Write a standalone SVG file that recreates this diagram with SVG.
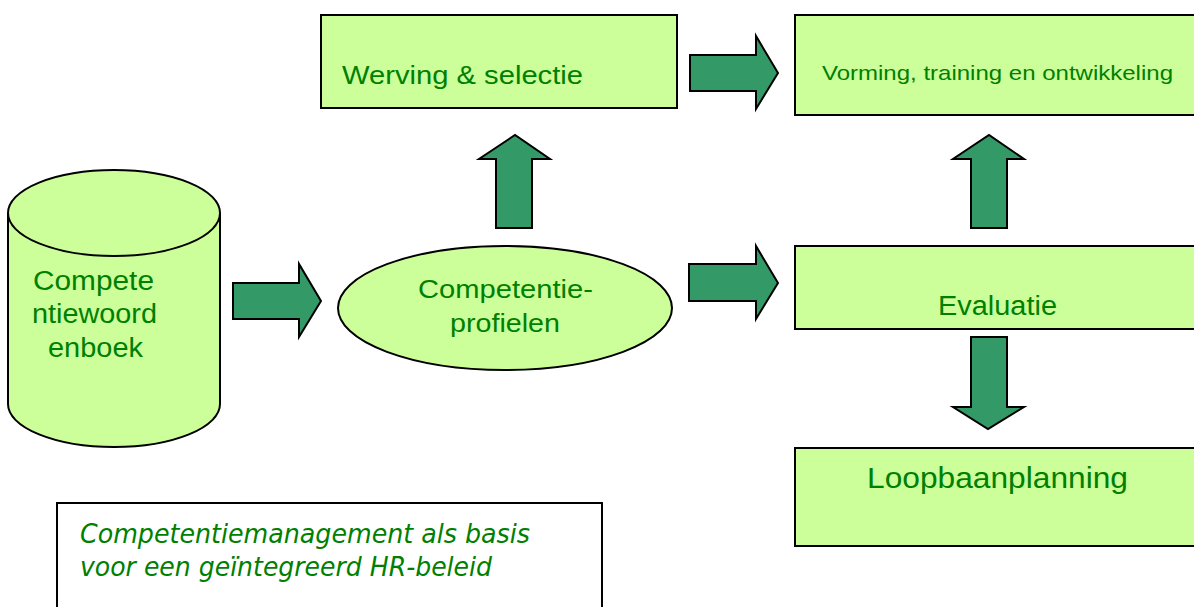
<svg xmlns="http://www.w3.org/2000/svg" width="1194" height="607" viewBox="0 0 1194 607">
<style>
.shape{fill:#CCFF99;stroke:#000;stroke-width:2}
.arr{fill:#339966;stroke:#000;stroke-width:2;stroke-linejoin:miter}
.t{font-family:"Liberation Sans",Arial,sans-serif;fill:#008000}
.it{font-family:"DejaVu Sans Condensed","DejaVu Sans",Verdana,sans-serif;font-style:italic;fill:#008000}
</style>
<rect width="1194" height="607" fill="#fff"/>
<g id="woordenboek">
<path class="shape" d="M8,213 L8,404 A106,43 0 0 0 220,404 L220,213 A106,43 0 0 0 8,213 Z"/>
<path class="shape" d="M8,213 A106,43 0 0 0 220,213"/>
<text class="t" font-size="27" x="33" y="290" textLength="121" lengthAdjust="spacingAndGlyphs">Compete</text>
<text class="t" font-size="27" x="32" y="323" textLength="125" lengthAdjust="spacingAndGlyphs">ntiewoord</text>
<text class="t" font-size="27" x="48" y="357" textLength="95" lengthAdjust="spacingAndGlyphs">enboek</text>
</g>
<g id="profielen">
<ellipse class="shape" cx="505" cy="308" rx="167" ry="62"/>
<text class="t" font-size="26" x="418" y="298" textLength="175" lengthAdjust="spacingAndGlyphs">Competentie-</text>
<text class="t" font-size="26" x="450" y="332" textLength="110" lengthAdjust="spacingAndGlyphs">profielen</text>
</g>
<g id="werving">
<rect class="shape" x="321" y="15" width="356" height="93"/>
<text class="t" font-size="26.5" x="342" y="84" textLength="241" lengthAdjust="spacingAndGlyphs">Werving &amp; selectie</text>
</g>
<g id="vorming">
<rect class="shape" x="795" y="15" width="410" height="100"/>
<text class="t" font-size="21" x="822" y="80" textLength="351" lengthAdjust="spacingAndGlyphs">Vorming, training en ontwikkeling</text>
</g>
<g id="evaluatie">
<rect class="shape" x="795" y="246" width="410" height="83"/>
<text class="t" font-size="27" x="938" y="315" textLength="119" lengthAdjust="spacingAndGlyphs">Evaluatie</text>
</g>
<g id="loopbaan">
<rect class="shape" x="795" y="448" width="410" height="98"/>
<text class="t" font-size="30" x="867" y="488" textLength="261" lengthAdjust="spacingAndGlyphs">Loopbaanplanning</text>
</g>
<g id="caption">
<rect x="57" y="503" width="545" height="120" fill="#fff" stroke="#000" stroke-width="2"/>
<text class="it" font-size="27" x="80" y="543" textLength="450" lengthAdjust="spacingAndGlyphs">Competentiemanagement als basis</text>
<text class="it" font-size="27" x="80" y="576" textLength="412" lengthAdjust="spacingAndGlyphs">voor een geïntegreerd HR-beleid</text>
</g>
<g id="connectors">
<polygon class="arr" points="233,283 299,283 299,264 321,301 299,337 299,319 233,319"/>
<polygon class="arr" points="689,264 756,264 756,246 778,283 756,319 756,301 689,301"/>
<polygon class="arr" points="690,55 756,55 756,36 778,73 756,109 756,91 690,91"/>
<polygon class="arr" points="496,228 496,159 479,159 515,135 550,159 532,159 532,228"/>
<polygon class="arr" points="971,228 971,159 953,159 989,135 1024,159 1007,159 1007,228"/>
<polygon class="arr" points="971,337 1007,337 1007,407 1024,407 988,429 953,407 971,407"/>
</g>
</svg>
